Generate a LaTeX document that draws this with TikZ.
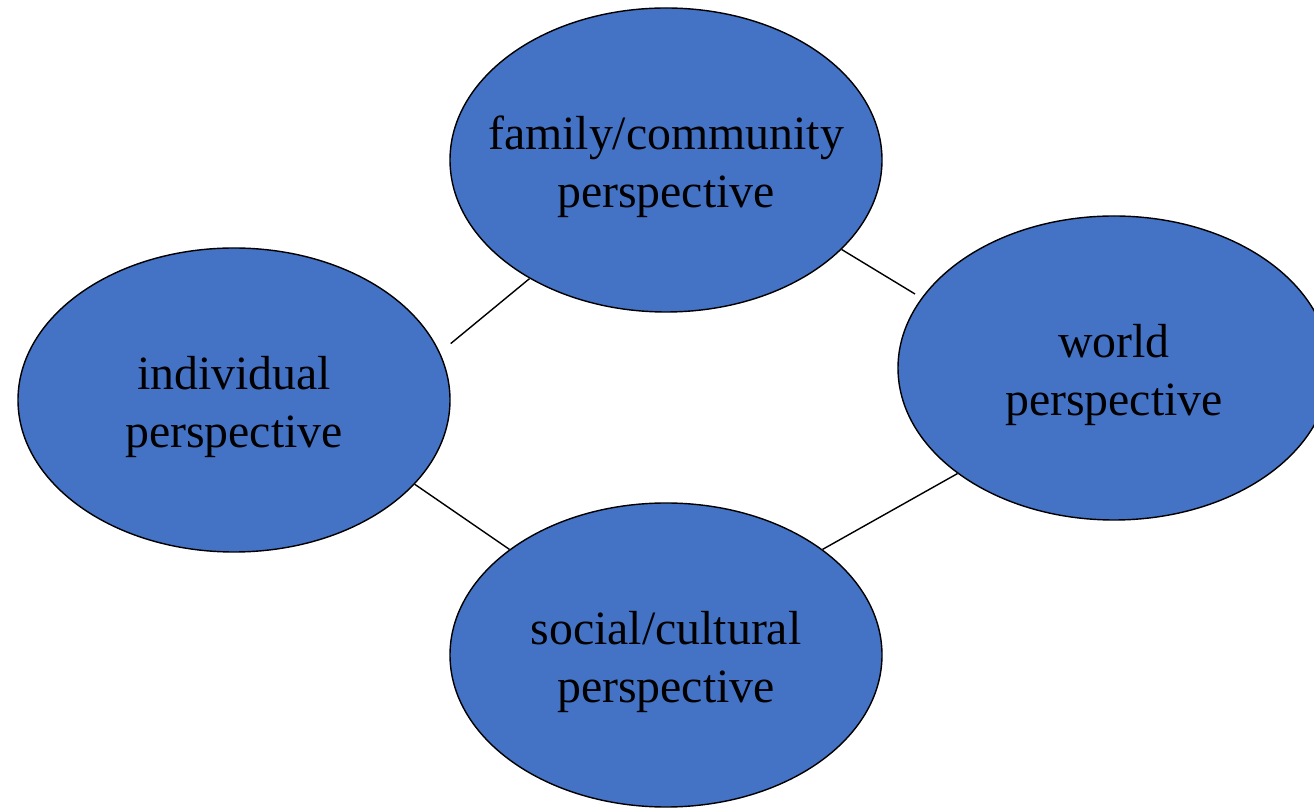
\documentclass[tikz,border=0pt]{standalone}
\usepackage{fontspec}
\setmainfont{Liberation Serif}
\usetikzlibrary{shapes.geometric}
\definecolor{perspblue}{HTML}{4472C4}

\begin{document}
\begin{tikzpicture}[persp/.style={ellipse,draw=black,line width=1pt,fill=perspblue,
        minimum width=10.8cm,minimum height=7.6cm,inner sep=0pt},
    persptxt/.style={align=center,inner sep=0pt,font=\fontsize{34}{41.3}\selectfont}]
    \useasboundingbox (0,0) rectangle (32.85,20.175);
    % the four perspectives
    \node[persp] (fam) at (16.65,16.175) {};
    \node[persp] (ind) at (5.85,10.175) {};
    \node[persp] (wld) at (27.85,10.975) {};
    \node[persp] (soc) at (16.65,3.8) {};
    \node[persptxt] (famtxt) at ([yshift=-0.18cm]fam.center) {family/community\\perspective};
    \node[persptxt] (indtxt) at ([yshift=-0.18cm]ind.center) {individual\\perspective};
    \node[persptxt] (wldtxt) at ([yshift=-0.18cm]wld.center) {world\\perspective};
    \node[persptxt] (soctxt) at ([yshift=-0.18cm]soc.center) {social/cultural\\perspective};
    % links round the ring
    \draw[line width=1pt,shorten >=0.35cm] (fam.221.4) -- (ind.13);
    \draw[line width=1pt] (ind.-25.8) -- (soc.146.3);
    \draw[line width=1pt,shorten >=0.19cm] (fam.-27.9) -- (wld.160.9);
    \draw[line width=1pt] (soc.34.1) -- (wld.214.6);
\end{tikzpicture}
\end{document}
